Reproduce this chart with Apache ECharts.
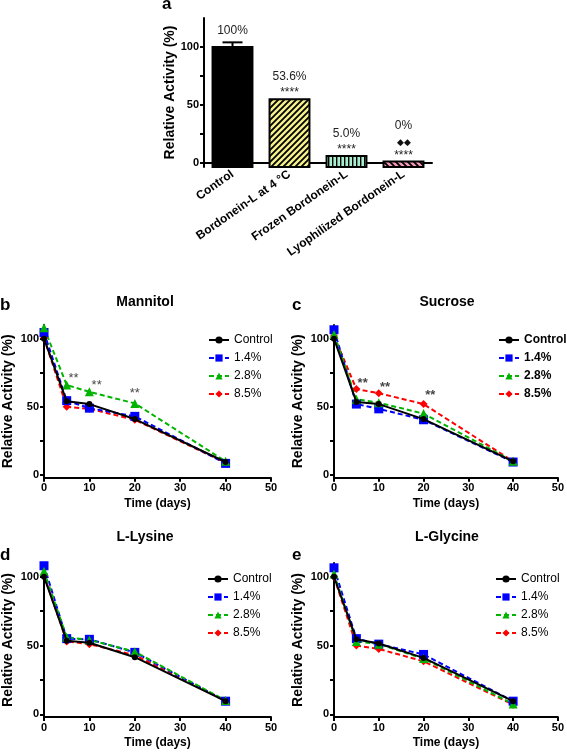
<!DOCTYPE html>
<html>
<head>
<meta charset="utf-8">
<script src="https://cdn.jsdelivr.net/npm/echarts@6/dist/echarts.min.js"></script>
<style>
html,body{margin:0;padding:0;background:#fff;}
#chart{width:567px;height:752px;}
</style>
</head>
<body>
<div id="chart"></div>
<script>
// ---------- Data ----------
const barCategories = ['Control', 'Bordonein-L at 4 °C', 'Frozen Bordonein-L', 'Lyophilized Bordonein-L'];
const barValues = [100, 55, 6, 1.2];
const barErrors = [4, 0, 0, 0];
const barPctLabels = ['100%', '53.6%', '5.0%', '0%'];
const barSigLabels = ['', '****', '****', '****'];
const barExtraLabels = ['', '', '', '◆◆'];

const days = [0, 5, 10, 20, 40];
const seriesNames = ['Control', '1.4%', '2.8%', '8.5%'];

const mannitolControl = [100, 54, 52, 41, 9.5];
const mannitol14 = [104.5, 54.5, 49, 43, 8.5];
const mannitol28 = [108, 66, 61, 52.5, 10];
const mannitol85 = [100.5, 50, 48.5, 40.5, 9];

const sucroseControl = [100, 53.5, 52, 41, 10];
const sucrose14 = [106.5, 52, 48.5, 40.5, 9.5];
const sucrose28 = [103, 55.5, 53, 45, 10];
const sucrose85 = [102, 63, 60, 52, 10];

const lysineControl = [100, 53.5, 52, 41.5, 9.5];
const lysine14 = [108, 55, 54.5, 45, 9.5];
const lysine28 = [104, 56, 54, 45.5, 10];
const lysine85 = [101, 53, 51, 43, 10];

const glycineControl = [100, 54.5, 51.5, 41, 9.5];
const glycine14 = [106.5, 55, 51, 43.5, 9.5];
const glycine28 = [102, 53, 51, 40.5, 7.5];
const glycine85 = [100, 50, 47.5, 38.5, 7];

const mannitolStarX = [6.5, 11.6, 20];
const mannitolStarY = [70.5, 65.5, 59.5];
const sucroseStarX = [6.4, 11.4, 21.5];
const sucroseStarY = [67.5, 64.5, 58];

const yTickValues = [0, 25, 50, 75, 100];
const yLabelValues = [0, 50, 100];

// ---------- Styles ----------
const FF = "'Liberation Sans', Arial, sans-serif";
const colors = ['#000000', '#0000ff', '#00b400', '#ff0000'];
const symbols = ['circle', 'rect', 'triangle', 'diamond'];
const symbolSizes = [6, 9, 9, 8];

function diagPattern(bg, dir) {
  const s = 6;
  const c = document.createElement('canvas');
  c.width = s; c.height = s;
  const g = c.getContext('2d');
  g.fillStyle = bg; g.fillRect(0, 0, s, s);
  g.strokeStyle = '#000'; g.lineWidth = 1.8;
  g.beginPath();
  for (let k = -1; k <= 1; k++) {
    if (dir > 0) { g.moveTo(k * s - 1, s + 1); g.lineTo(k * s + s + 1, -1); }
    else { g.moveTo(k * s - 1, -1); g.lineTo(k * s + s + 1, s + 1); }
  }
  g.stroke();
  return c;
}
function vertPattern(bg) {
  const c = document.createElement('canvas');
  c.width = 4; c.height = 4;
  const g = c.getContext('2d');
  g.fillStyle = bg; g.fillRect(0, 0, 4, 4);
  g.fillStyle = '#000'; g.fillRect(0, 0, 1.4, 4);
  return c;
}
const barFills = [
  '#000000',
  { image: diagPattern('#f4f08c', 1), repeat: 'repeat' },
  { image: vertPattern('#a8efcf'), repeat: 'repeat' },
  { image: diagPattern('#f59ab8', -1), repeat: 'repeat' }
];
const barYMin = -3.5, barYMax = 125;

// ---------- Grids ----------
const grids = [
  { left: 204, top: 18, width: 228, height: 149 },
  { left: 42, top: 325, width: 229, height: 152.7 },
  { left: 334, top: 325, width: 228, height: 152.7 },
  { left: 42, top: 563, width: 229, height: 154 },
  { left: 334, top: 563, width: 228, height: 154 }
];

const axisLineStyle = { color: '#000', width: 2 };
function lineXAxis(gi) {
  return {
    type: 'value', gridIndex: gi, min: 0, max: 50, interval: 10,
    axisLine: { show: true, onZero: false, lineStyle: axisLineStyle },
    axisTick: { show: true, length: 4, lineStyle: { width: 2, color: '#000' } },
    axisLabel: { fontSize: 11, fontWeight: 'bold', color: '#000', margin: 5, fontFamily: FF },
    splitLine: { show: false },
    name: 'Time (days)', nameLocation: 'middle', nameGap: 20,
    nameTextStyle: { fontSize: 12, fontWeight: 'bold', color: '#000', fontFamily: FF }
  };
}
function valueYAxis(gi, min, max, gap) {
  return {
    type: 'value', gridIndex: gi, min: min, max: max,
    axisLine: { show: true, onZero: false, lineStyle: axisLineStyle },
    axisTick: { show: true, customValues: yTickValues, length: 4, lineStyle: { width: 2, color: '#000' } },
    axisLabel: { customValues: yLabelValues, fontSize: 11, fontWeight: 'bold', color: '#000', margin: 5, fontFamily: FF },
    splitLine: { show: false },
    name: 'Relative Activity (%)', nameLocation: 'middle', nameGap: gap,
    nameTextStyle: { fontSize: 14, fontWeight: 'bold', color: '#000', fontFamily: FF }
  };
}

const xAxes = [{
  type: 'category', gridIndex: 0, data: barCategories,
  axisLine: { show: true, lineStyle: axisLineStyle },
  axisTick: { show: true, alignWithLabel: true, length: 5, lineStyle: { width: 2, color: '#000' } },
  axisLabel: { rotate: 35, fontSize: 12, fontWeight: 'bold', color: '#000', margin: 6, fontFamily: FF, interval: 0 }
}];
const yAxes = [valueYAxis(0, barYMin, barYMax, 27)];
for (let g = 1; g <= 4; g++) {
  xAxes.push(lineXAxis(g));
  yAxes.push(valueYAxis(g, -2, 110, 29));
}

// ---------- Series ----------
const series = [];
series.push({
  type: 'custom', xAxisIndex: 0, yAxisIndex: 0, silent: true,
  data: barValues.map((v, i) => [i, v, barErrors[i]]),
  renderItem: function (params, api) {
    const i = api.value(0), v = api.value(1), e = api.value(2);
    const top = api.coord([i, v]);
    const base = api.coord([i, barYMin]);
    const w = api.size([1, 0])[0] * 0.7;
    const children = [];
    children.push({
      type: 'rect',
      shape: { x: top[0] - w / 2, y: top[1], width: w, height: base[1] - top[1] },
      style: { fill: barFills[i], stroke: '#000', lineWidth: 2 }
    });
    let cursor = top[1];
    if (e > 0) {
      const et = api.coord([i, v + e]);
      children.push({ type: 'line', shape: { x1: top[0], y1: top[1], x2: et[0], y2: et[1] }, style: { stroke: '#000', lineWidth: 2 } });
      children.push({ type: 'line', shape: { x1: top[0] - 10, y1: et[1], x2: top[0] + 10, y2: et[1] }, style: { stroke: '#000', lineWidth: 2 } });
      cursor = et[1];
    }
    let pctY;
    if (barSigLabels[i]) {
      const sy = cursor - 6;
      children.push({ type: 'text', x: top[0], y: sy, style: { text: barSigLabels[i], align: 'center', verticalAlign: 'middle', font: '12px ' + FF, fill: '#222' } });
      let vis = sy - 2;
      if (barExtraLabels[i]) {
        const dy = vis - 11;
        children.push({ type: 'text', x: top[0], y: dy, style: { text: barExtraLabels[i], align: 'center', verticalAlign: 'middle', font: '9px ' + FF, fill: '#111' } });
        pctY = dy - 17;
      } else {
        pctY = vis - 14;
      }
    } else {
      pctY = cursor - 12;
    }
    children.push({ type: 'text', x: top[0], y: pctY, style: { text: barPctLabels[i], align: 'center', verticalAlign: 'middle', font: '12px ' + FF, fill: '#222' } });
    return { type: 'group', children: children };
  }
});

const panels = [
  [mannitolControl, mannitol14, mannitol28, mannitol85],
  [sucroseControl, sucrose14, sucrose28, sucrose85],
  [lysineControl, lysine14, lysine28, lysine85],
  [glycineControl, glycine14, glycine28, glycine85]
];
const drawOrder = [3, 1, 2, 0];
panels.forEach((p, pi) => {
  const gi = pi + 1;
  drawOrder.forEach((k) => {
    series.push({
      type: 'line', name: seriesNames[k], xAxisIndex: gi, yAxisIndex: gi,
      data: days.map((d, j) => [d, p[k][j]]),
      symbol: symbols[k], symbolSize: symbolSizes[k], showSymbol: true,
      itemStyle: { color: colors[k] },
      lineStyle: { color: colors[k], width: 2, type: k === 0 ? 'solid' : [5, 3] },
      z: k === 0 ? 5 : 3, silent: true
    });
  });
});

function starSeries(gi, xs, ys, bold) {
  return {
    type: 'scatter', xAxisIndex: gi, yAxisIndex: gi, silent: true,
    symbolSize: 0, data: xs.map((x, i) => [x, ys[i]]),
    label: { show: true, position: 'inside', formatter: '**', fontSize: 13, fontWeight: bold ? 'bold' : 'normal', color: '#111', fontFamily: FF },
    z: 6
  };
}
series.push(starSeries(1, mannitolStarX, mannitolStarY, false));
series.push(starSeries(2, sucroseStarX, sucroseStarY, true));

// ---------- Legends ----------
function legend(left, top, bold) {
  return {
    left: left, top: top, orient: 'vertical', data: seriesNames,
    itemWidth: 20, itemHeight: 9, itemGap: 0, selectedMode: false,
    textStyle: { fontSize: 12, fontWeight: bold ? 'bold' : 'normal', color: '#000', fontFamily: FF, lineHeight: 18 }
  };
}

// ---------- Graphic text ----------
function txt(x, y, text, font, align) {
  return { type: 'text', x: x, y: y, style: { text: text, font: font, fill: '#000', align: align || 'center', verticalAlign: 'middle' } };
}
const graphics = [
  txt(162, 4, 'a', 'bold 17px ' + FF, 'left'),
  txt(0, 305, 'b', 'bold 17px ' + FF, 'left'),
  txt(292, 305, 'c', 'bold 17px ' + FF, 'left'),
  txt(0, 555, 'd', 'bold 17px ' + FF, 'left'),
  txt(292, 555, 'e', 'bold 17px ' + FF, 'left'),
  txt(145, 302, 'Mannitol', 'bold 14px ' + FF),
  txt(447, 302, 'Sucrose', 'bold 14px ' + FF),
  txt(145, 537, 'L-Lysine', 'bold 14px ' + FF),
  txt(447, 537, 'L-Glycine', 'bold 14px ' + FF)
];

const chart = echarts.init(document.getElementById('chart'), null, { renderer: 'canvas' });
chart.setOption({
  animation: false,
  backgroundColor: '#fff',
  textStyle: { fontFamily: FF },
  grid: grids,
  xAxis: xAxes,
  yAxis: yAxes,
  legend: [legend(203, 326, false), legend(493, 326, true), legend(202, 565, false), legend(490, 565, false)],
  series: series,
  graphic: graphics
});
</script>
</body>
</html>
